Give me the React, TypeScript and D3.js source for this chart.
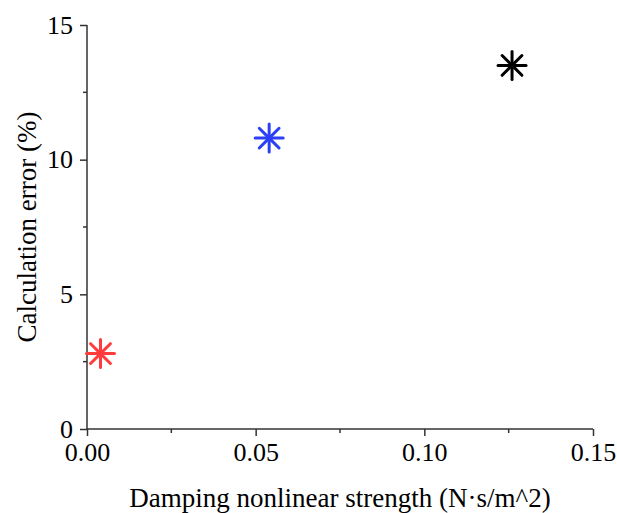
import React, { useEffect, useRef } from "react";
import * as d3 from "d3";

// damping nonlinear strength (N·s/m^2) vs calculation error (%)
const strength = [0.004, 0.054, 0.126];
const errorPct = [2.8, 10.8, 13.5];
const colors = ["#ff3b3b", "#2b3ff5", "#000000"];
const xTicks = [0, 0.05, 0.1, 0.15];
const yTicks = [0, 5, 10, 15];

const W = 617, H = 513;
const margin = { top: 25, right: 24, bottom: 84, left: 87 };
const serif = "'Liberation Serif', 'Times New Roman', serif";

function App() {
  const ref = useRef<SVGSVGElement>(null);

  useEffect(() => {
    const svg = d3.select(ref.current);
    svg.selectAll("*").remove();
    const w = W - margin.left - margin.right;
    const h = H - margin.top - margin.bottom;

    const x = d3.scaleLinear().domain([0, 0.15]).range([0, w]);
    const y = d3.scaleLinear().domain([0, 15]).range([h, 0]);

    const g = svg.append("g").attr("transform", `translate(${margin.left},${margin.top})`);

    // x axis with minor ticks
    const xg = g.append("g").attr("transform", `translate(0,${h})`)
      .call(d3.axisBottom(x).tickValues(xTicks).tickFormat(d3.format(".2f")).tickSize(7).tickPadding(7));
    xg.selectAll(".minor").data(xTicks.slice(0, -1).map(t => t + 0.025)).join("line")
      .attr("x1", d => x(d)).attr("x2", d => x(d)).attr("y1", 0).attr("y2", 4)
      .attr("stroke", "#333").attr("stroke-width", 1.5);

    const yg = g.append("g")
      .call(d3.axisLeft(y).tickValues(yTicks).tickFormat(d3.format("d")).tickSize(7).tickPadding(7));
    yg.selectAll(".minor").data(yTicks.slice(0, -1).map(t => t + 2.5)).join("line")
      .attr("x1", 0).attr("x2", -4).attr("y1", d => y(d)).attr("y2", d => y(d))
      .attr("stroke", "#333").attr("stroke-width", 1.5);

    g.selectAll(".domain, .tick line").attr("stroke", "#333").attr("stroke-width", 1.5);
    xg.select(".domain").attr("d", `M0,0H${w}`);
    yg.select(".domain").attr("d", `M0,0V${h}`);
    g.selectAll(".tick text").attr("font-family", serif)
      .attr("font-size", 26).attr("fill", "#000");

    // asterisk markers: 8 arms
    const r = 14;
    const angles = d3.range(8).map(i => (i * Math.PI) / 4);
    const pts = g.append("g").selectAll("g").data(strength).join("g")
      .attr("transform", (d, i) => `translate(${x(d)},${y(errorPct[i])})`);
    pts.each(function (_, i) {
      d3.select(this).selectAll("line").data(angles).join("line")
        .attr("x1", 0).attr("y1", 0)
        .attr("x2", a => r * Math.cos(a)).attr("y2", a => r * Math.sin(a))
        .attr("stroke", colors[i]).attr("stroke-width", 3).attr("stroke-linecap", "round");
    });

    svg.append("text")
      .attr("x", margin.left + w / 2).attr("y", 507)
      .attr("text-anchor", "middle")
      .attr("font-family", serif).attr("font-size", 27)
      .text("Damping nonlinear strength (N·s/m^2)");

    svg.append("text")
      .attr("transform", `translate(36,${margin.top + h / 2}) rotate(-90)`)
      .attr("text-anchor", "middle")
      .attr("font-family", serif).attr("font-size", 27)
      .text("Calculation error (%)");
  }, []);

  return (
    <svg ref={ref} width={W} height={H}
      style={{ position: "absolute", left: 0, top: 0, background: "#fff" }} />
  );
}

export default App;
